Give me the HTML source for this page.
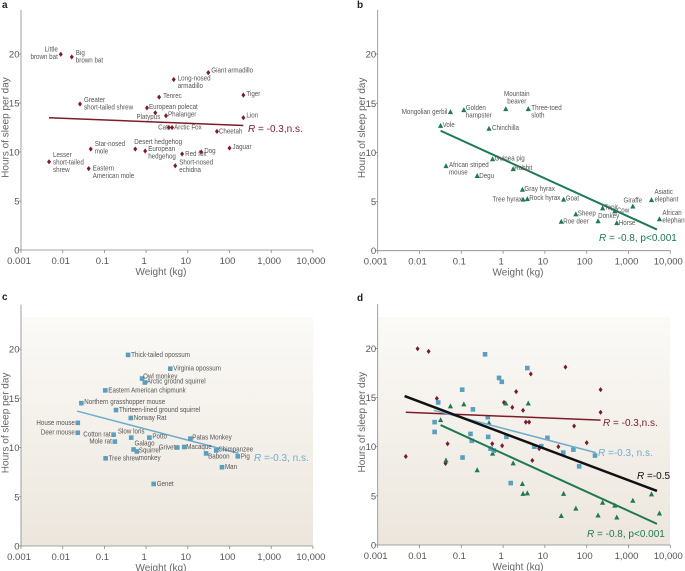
<!DOCTYPE html>
<html><head><meta charset="utf-8">
<style>
html,body{margin:0;padding:0;background:#fff;}
svg{display:block;}
.tk{font-family:"Liberation Sans",sans-serif;font-size:9.5px;fill:#555;}
.tt{font-family:"Liberation Sans",sans-serif;font-size:10px;fill:#666;}
.lb{font-family:"Liberation Sans",sans-serif;font-size:7.6px;fill:#555;}
.pl{font-family:"Liberation Sans",sans-serif;font-size:10px;font-weight:bold;fill:#222;}
.rl{font-family:"Liberation Sans",sans-serif;font-size:10px;}
</style></head>
<body>
<svg id="chart" width="685" height="571" viewBox="0 0 685 571" xmlns="http://www.w3.org/2000/svg">
<defs>
<linearGradient id="bg" x1="0" y1="0" x2="0" y2="1">
<stop offset="0" stop-color="#fbfaf7"/><stop offset="1" stop-color="#ece6dd"/>
</linearGradient>
</defs>
<rect x="21" y="317" width="292" height="229" fill="url(#bg)"/>
<rect x="378" y="317" width="292" height="228" fill="url(#bg)"/>
</svg>
<script>
// ---- Panel a (red diamonds)
const aNames=["Little|brown bat","Big|brown bat","Giant armadillo","Long-nosed|armadillo","Tiger","Tenrec","Greater|short-tailed shrew","European polecat","Platypus","Phalanger","Lion","Cat","Arctic Fox","Cheetah","Jaguar","Dog","Red fox","Desert hedgehog","European|hedgehog","Short-nosed|echidna","Star-nosed|mole","Lesser|short-tailed|shrew","Eastern|American mole"];
const aWeights=[0.009,0.0165,31,4.6,215,2.05,0.026,1.05,1.66,3.0,215,3.5,4.2,50,100,21,7.3,0.55,0.95,5,0.047,0.0047,0.042];
const aHours=[19.97,19.7,18.1,17.4,15.8,15.6,14.9,14.5,14.0,13.7,13.5,12.5,12.5,12.1,10.4,10.0,9.8,10.3,10.1,8.6,10.3,9.0,8.3];
const aFitW=[0.0047,215];
const aFitH=[13.5,12.7];
// ---- Panel b (green triangles)
const bNames=["Mongolian gerbil","Golden|hampster","Mountain|beaver","Three-toed|sloth","Vole","Chinchilla","Guinea pig","African striped|mouse","Rabbit","Degu","Gray hyrax","Tree hyrax","Rock hyrax","Goat","Giraffe","Asiatic|elephant","Tapir","Cow","Sheep","African|elephant","Horse","Donkey","Roe deer"];
const bWeights=[0.055,0.115,1.16,4,0.032,0.46,0.56,0.043,1.74,0.24,2.9,3.0,3.8,28,1270,3550,240,470,55,5500,525,187,24.6];
const bHours=[14.1,14.3,14.4,14.4,12.7,12.4,9.3,8.6,8.3,7.6,6.2,5.2,5.25,5.2,4.5,5.15,4.3,4.0,3.7,3.2,2.8,3.0,2.95];
const bFitW=[0.032,4800];
const bFitH=[12.2,2.15];
// ---- Panel c (blue squares)
const cNames=["Thick-tailed opossum","Virginia opossum","Owl monkey","Arctic ground squirrel","Eastern American chipmunk","Northern grasshopper mouse","Thirteen-lined ground squirrel","Norway Rat","House mouse","Deer mouse","Cotton rat","Mole rat","Slow loris","Potto","Patas Monkey","Galago","Squirrel|monkey","Grivet","Macaque","Chimpanzee","Baboon","Pig","Man","Tree shrew","Genet"];
const cWeights=[0.37,3.8,0.8,0.93,0.105,0.028,0.19,0.43,0.023,0.023,0.166,0.178,0.44,1.2,11.5,0.5,0.6,5.6,8.2,48,27.5,158,66,0.107,1.52];
const cHours=[19.4,18.0,17.0,16.6,15.8,14.5,13.8,13.0,12.5,11.5,11.3,10.6,11.0,11.0,10.9,9.8,9.6,10.0,10.05,9.7,9.4,9.1,8.0,8.9,6.3];
const cFitW=[0.022,165];
const cFitH=[13.7,9.4];
// ---- Panel d overall fit
const dFitW=[0.0044,4800];
const dFitH=[15.15,5.5];
const xTickVals=[0.001,0.01,0.1,1,10,100,1000,10000];
const xTickLabels=["0.001","0.01","0.1","1","10","100","1,000","10,000"];
const yTickVals=[0,5,10,15,20];

// label layout (anchor, dx, dy) — presentation only
const aLay=[["end",-3,-3],["start",4,-2],["start",3,0],["start",4,1],["start",3,1],["start",4,1],["start",4,-2],["start",2,1],["end",5,6],["start",2,1],["start",3,0],["end",-1,2],["start",2,2],["start",2,2],["start",3,1],["start",3,1],["start",3,2],["start",-1,-5],["start",3,0],["start",4,-1],["start",4,-3],["start",4,-5],["start",4,2]];
const bLay=[["end",-3,2],["start",2,0],["middle",11,-13],["start",3,1],["start",2,1],["start",3,1],["start",2,1],["start",3,1],["start",1,1],["start",2,2],["start",2,1],["end",-1,2],["start",2,1],["start",2,1],["middle",0,-4],["start",3,-6],["start",2,1],["start",2,1],["start",2,1],["start",3,-4],["start",2,2],["start",0,-3],["start",2,2]];
const cLay=[["start",3,2],["start",3,2],["start",1,0],["start",2,1],["start",3,2],["start",3,1],["start",3,2],["start",3,2],["end",-3,2],["end",-3,2],["end",-3,2],["end",-3,2],["middle",0,-4],["start",3,1],["start",2,1],["start",1,-4],["start",2,1],["end",-2,2],["start",2,2],["start",2,1],["start",2,5],["start",3,2],["start",3,2],["start",3,2],["start",3,2]];

const NS="http://www.w3.org/2000/svg";
const svg=document.getElementById('chart');
function mk(tag,attrs,parent){const e=document.createElementNS(NS,tag);for(const k in attrs)e.setAttribute(k,attrs[k]);(parent||svg).appendChild(e);return e;}

const RED="#7b1c2a",GREEN="#1d7a52",BLUE="#5b9ec0",BLUEL="#6fadcd",BLACK="#111";
const panels={
 a:{x0:21,y0:250,dec:41.7,ppu:9.8,letter:[2,8]},
 b:{x0:377.7,y0:250.7,dec:41.8,ppu:9.83,letter:[357,8]},
 c:{x0:21,y0:546,dec:41.7,ppu:9.85,letter:[2,300]},
 d:{x0:377.7,y0:545,dec:41.8,ppu:9.83,letter:[357,301]}
};
function X(P,w){return P.x0+(Math.log10(w)+3)*P.dec;}
function Y(P,h){return P.y0-h*P.ppu;}

function axes(key){
 const P=panels[key];
 const g=mk('g',{});
 
 
 const ya=mk('line',{x1:P.x0,y1:P.y0,x2:P.x0,y2:P.y0-24.5*P.ppu,stroke:'#888','stroke-width':0.8},g);
 
 
 const xa=mk('line',{x1:P.x0,y1:P.y0,x2:P.x0+7*P.dec,y2:P.y0,stroke:'#888','stroke-width':0.8},g);
 
 
 xTickVals.forEach((v,i)=>{
  const x=X(P,v);
  mk('line',{x1:x,y1:P.y0,x2:x,y2:P.y0+3,stroke:'#888','stroke-width':0.8},g);
  const t=mk('text',{x:x-2,y:P.y0+14,'text-anchor':'middle',class:'tk'},g);
  t.textContent=xTickLabels[i];
  
  
 });
 yTickVals.forEach(v=>{
  const y=Y(P,v);
  mk('line',{x1:P.x0-2,y1:y,x2:P.x0,y2:y,stroke:'#888','stroke-width':0.8},g);
  const t=mk('text',{x:P.x0-1.5,y:y+3.5,'text-anchor':'end',class:'tk'},g);
  t.textContent=String(v);
  
  
 });
 const xt=mk('text',{x:P.x0+3.5*P.dec-6,y:P.y0+25,'text-anchor':'middle',class:'tt'},g);
 xt.textContent='Weight (kg)';
 
 
 const cy=P.y0-12.5*P.ppu;
 const yt=mk('text',{x:0,y:0,'text-anchor':'middle',class:'tt',transform:`translate(${P.x0-12.5},${cy}) rotate(-90)`},g);
 yt.textContent='Hours of sleep per day';
 
 
 const L=mk('text',{x:P.letter[0],y:P.letter[1],class:'pl'},g);
 L.textContent=key;
 
 
}

function marker(P,w,h,type,color,g){
 const x=X(P,w),y=Y(P,h);let m;
 if(type==='d')m=mk('polygon',{points:`${x},${y-2.6} ${x+2},${y} ${x},${y+2.6} ${x-2},${y}`,fill:color},g);
 else if(type==='t')m=mk('polygon',{points:`${x},${y-3} ${x+2.6},${y+2} ${x-2.6},${y+2}`,fill:color},g);
 else m=mk('rect',{x:x-2.3,y:y-2.3,width:4.6,height:4.6,fill:color},g);
 return m;
}
function series(key,names,ws,hs,type,color,lay){
 const P=panels[key];
 const g=mk('g',{});
 
 
 ws.forEach((w,i)=>{
  const m=marker(P,w,hs[i],type,color,g);
  
  
  if(lay){
   const [anc,dx,dy]=lay[i];
   const lines=names[i].split('|');
   lines.forEach((ln,j)=>{
    const tx=X(P,w)+dx, ty=Y(P,hs[i])+dy+j*7.5;
    const t=mk('text',{x:0,y:0,'text-anchor':anc,class:'lb',transform:`translate(${tx.toFixed(1)},${ty.toFixed(1)}) scale(0.82,1)`},g);
    t.textContent=ln;
    
    
   });
  }
 });
}
function fit(key,fw,fh,color,width,name){
 const P=panels[key];
 const l=mk('line',{x1:X(P,fw[0]),y1:Y(P,fh[0]),x2:X(P,fw[1]),y2:Y(P,fh[1]),stroke:color,'stroke-width':width});
 
 
}
function rlabel(x,y,txt,color,name){
 const t=mk('text',{x:x,y:y,class:'rl',fill:color});
 t.innerHTML=txt;
 
 
}

['a','b','c','d'].forEach(axes);
fit('a',aFitW,aFitH,RED,1.5,'fit-line-a');
series('a',aNames,aWeights,aHours,'d',RED,aLay);
rlabel(248,132,'<tspan font-style="italic">R</tspan> = -0.3,n.s.',RED,'r-label-a');
fit('b',bFitW,bFitH,GREEN,2,'fit-line-b');
series('b',bNames,bWeights,bHours,'t',GREEN,bLay);
rlabel(599,241,'<tspan font-style="italic">R</tspan> = -0.8, p&lt;0.001',GREEN,'r-label-b');
fit('c',cFitW,cFitH,BLUEL,1.5,'fit-line-c');
series('c',cNames,cWeights,cHours,'s',BLUE,cLay);
rlabel(254,461,'<tspan font-style="italic">R</tspan> =-0.3, n.s.',BLUEL,'r-label-c');
series('d',aNames,aWeights,aHours,'d',RED,null);
series('d',bNames,bWeights,bHours,'t',GREEN,null);
series('d',cNames,cWeights,cHours,'s',BLUE,null);
fit('d',aFitW,aFitH,RED,1.5,'fit-line-d-red');
fit('d',cFitW,cFitH,BLUEL,1.5,'fit-line-d-blue');
fit('d',bFitW,bFitH,GREEN,2,'fit-line-d-green');
fit('d',dFitW,dFitH,BLACK,2.5,'fit-line-d-overall');
rlabel(603,426,'<tspan font-style="italic">R</tspan> = -0.3,n.s.',RED,'r-label-d-red');
rlabel(598,456,'<tspan font-style="italic">R</tspan> =-0.3, n.s.',BLUEL,'r-label-d-blue');
rlabel(637,479,'<tspan font-style="italic">R</tspan> =-0.5',BLACK,'r-label-d-overall');
rlabel(587,537,'<tspan font-style="italic">R</tspan> = -0.8, p&lt;0.001',GREEN,'r-label-d-green');
</script>
</body></html>
